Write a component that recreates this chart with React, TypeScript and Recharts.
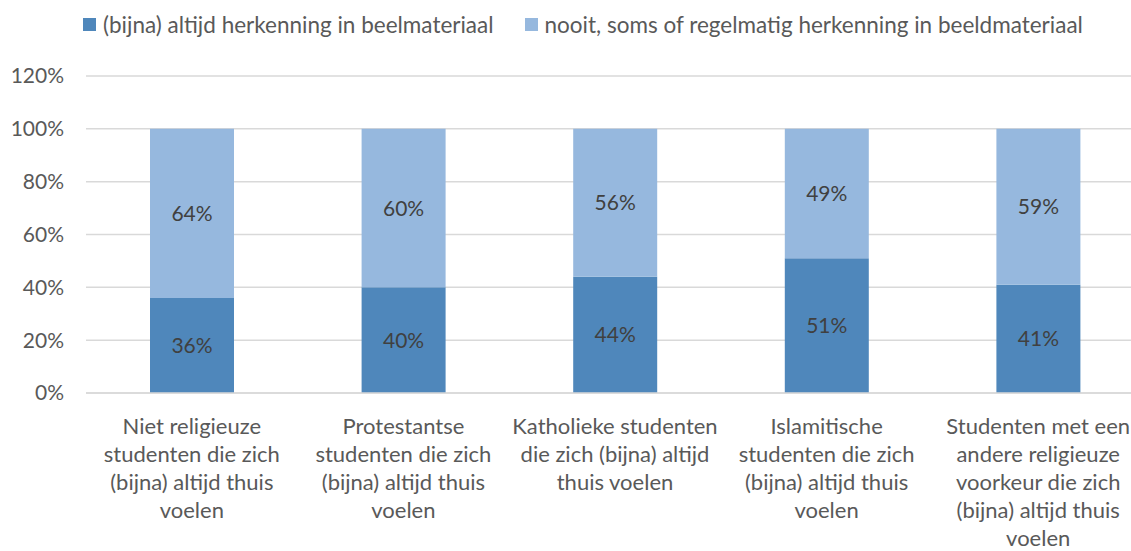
import { Bar, BarChart, CartesianGrid, LabelList, XAxis, YAxis } from "recharts";

const categories = [
  "Niet religieuze\nstudenten die zich\n(bijna) altijd thuis\nvoelen",
  "Protestantse\nstudenten die zich\n(bijna) altijd thuis\nvoelen",
  "Katholieke studenten\ndie zich (bijna) altijd\nthuis voelen",
  "Islamitische\nstudenten die zich\n(bijna) altijd thuis\nvoelen",
  "Studenten met een\nandere religieuze\nvoorkeur die zich\n(bijna) altijd thuis\nvoelen",
];
const altijd = [36, 40, 44, 51, 41];
const nooit = [64, 60, 56, 49, 59];
const yTicks = [0, 20, 40, 60, 80, 100, 120];

const seriesNames = ["(bijna) altijd herkenning in beelmateriaal", "nooit, soms of regelmatig herkenning in beeldmateriaal"];
const colors = ["#4f87bb", "#96b8de"];

const data = categories.map((c, i) => ({ cat: c, altijd: altijd[i], nooit: nooit[i] }));

const FONT = "Lato, 'Noto Sans', sans-serif";

function CategoryTick({ x, y, payload }: any) {
  const lines = String(payload.value).split("\n");
  return (
    <g transform={`translate(${x},${y})`}>
      <text textAnchor="middle" fill="#595959" fontSize={22} fontFamily={FONT}>
        {lines.map((l, i) => (
          <tspan key={i} x={0} y={33 + i * 28}>
            {l}
          </tspan>
        ))}
      </text>
    </g>
  );
}

export default function App() {
  return (
    <div style={{ position: "absolute", left: 0, top: 0, width: 1131, height: 551, overflow: "hidden", background: "#fff", fontFamily: FONT }}>
      {/* legend */}
      <div style={{ position: "absolute", left: 83, top: 11, display: "flex", alignItems: "center", fontSize: 22.5, color: "#595959", whiteSpace: "nowrap" }}>
        {seriesNames.map((n, i) => (
          <div key={n} style={{ display: "flex", alignItems: "center", marginRight: i === 0 ? 31 : 0 }}>
            <span style={{ display: "inline-block", width: 13, height: 13, background: colors[i], marginRight: 7 }} />
            <span>{n}</span>
          </div>
        ))}
      </div>
      <BarChart width={1150} height={551} data={data} margin={{ top: 76, right: 6, left: 0, bottom: 0 }} barSize={84}>
        <CartesianGrid vertical={false} stroke="#d9d9d9" strokeWidth={1.5} />
        <XAxis
          dataKey="cat"
          height={158}
          interval={0}
          tick={<CategoryTick />}
          tickLine={false}
          axisLine={{ stroke: "#d9d9d9", strokeWidth: 1.5 }}
        />
        <YAxis
          width={86}
          domain={[0, 120]}
          ticks={yTicks}
          tickFormatter={(v: number) => `${v}%`}
          tick={{ fill: "#595959", fontSize: 21, fontFamily: FONT }}
          tickLine={false}
          tickSize={0}
          tickMargin={22}
          axisLine={false}
        />
        <Bar dataKey="altijd" stackId="a" fill={colors[0]} isAnimationActive={false}>
          <LabelList dataKey="altijd" position="center" formatter={(v: any) => `${v}%`} fill="#404040" fontSize={21} fontFamily={FONT} />
        </Bar>
        <Bar dataKey="nooit" stackId="a" fill={colors[1]} isAnimationActive={false}>
          <LabelList dataKey="nooit" position="center" formatter={(v: any) => `${v}%`} fill="#404040" fontSize={21} fontFamily={FONT} />
        </Bar>
      </BarChart>
    </div>
  );
}
